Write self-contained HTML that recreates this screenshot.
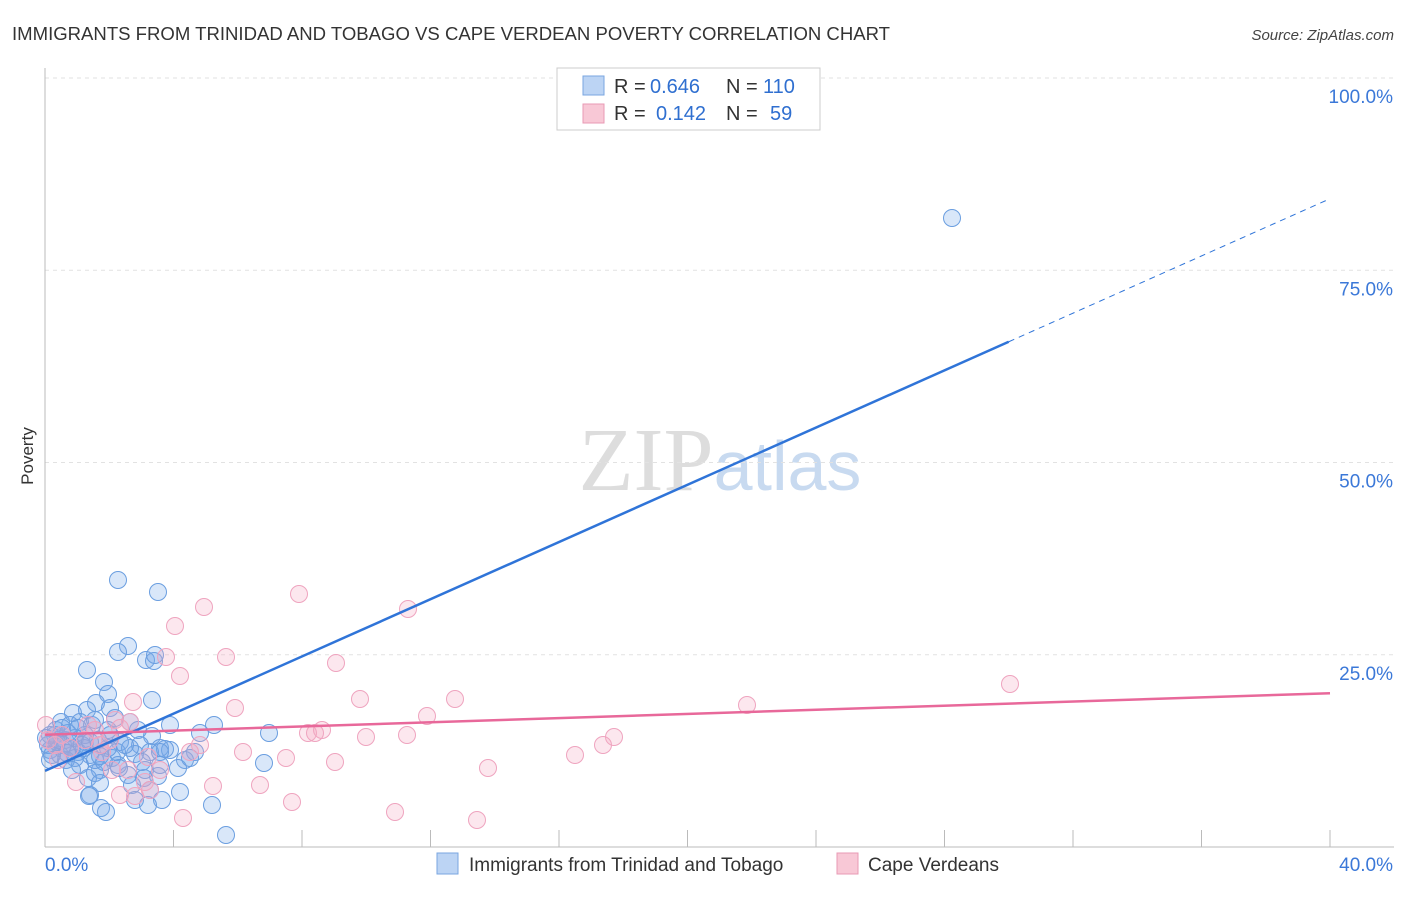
<!DOCTYPE html>
<html><head><meta charset="utf-8"><style>
body{margin:0;background:#fff;font-family:"Liberation Sans",sans-serif}
</style></head><body>
<svg id="chart" width="1406" height="892" font-family="Liberation Sans, sans-serif">
<text x="12" y="40" font-size="18" fill="#333" textLength="878" lengthAdjust="spacingAndGlyphs">IMMIGRANTS FROM TRINIDAD AND TOBAGO VS CAPE VERDEAN POVERTY CORRELATION CHART</text>
<text x="1394" y="40" font-size="15" fill="#444" font-style="italic" text-anchor="end">Source: ZipAtlas.com</text>
<text x="720" y="490" font-size="90" fill="#ddd" text-anchor="middle" font-family="Liberation Serif, serif">ZIP<tspan fill="#c8daf0" font-family="Liberation Sans, sans-serif" font-size="70">atlas</tspan></text>
<text transform="translate(33,456) rotate(-90)" font-size="17" fill="#333" text-anchor="middle">Poverty</text>
<g id="grid"></g><g id="pts"></g><g id="lines"></g>
<g>
<rect x="557" y="68" width="263" height="62" fill="#fff" stroke="#ccc"/>
<rect x="583" y="76" width="21" height="19" fill="#bcd4f4" stroke="#7aa6e0"/>
<rect x="583" y="104" width="21" height="19" fill="#f8c8d6" stroke="#e89ab4"/>
<text x="614" y="93" font-size="20" fill="#333">R =</text>
<text x="650" y="93" font-size="20" fill="#2f6fd0">0.646</text>
<text x="726" y="93" font-size="20" fill="#333">N =</text>
<text x="763" y="93" font-size="20" fill="#2f6fd0">110</text>
<text x="614" y="120" font-size="20" fill="#333">R =</text>
<text x="656" y="120" font-size="20" fill="#2f6fd0">0.142</text>
<text x="726" y="120" font-size="20" fill="#333">N =</text>
<text x="770" y="120" font-size="20" fill="#2f6fd0">59</text>
</g>
<g>
<rect x="437" y="853" width="21" height="21" fill="#bcd4f4" stroke="#7aa6e0"/>
<text x="469" y="871" font-size="19" fill="#333">Immigrants from Trinidad and Tobago</text>
<rect x="837" y="853" width="21" height="21" fill="#f8c8d6" stroke="#e89ab4"/>
<text x="868" y="871" font-size="19" fill="#333">Cape Verdeans</text>
</g>
</svg>
<script>
const xTicks=[0,4,8,12,16,20,24,28,32,36,40];
const yTicks=[25,50,75,100];
const blueLine=[9.9,0,30,65.7,40,84.3];
const pinkLine=[14.6,0,40,20.0];
const bluePx=[[118,580],[158,592],[128,646],[118,652],[146,660],[154,661],[155,655],[87,670],[104,682],[108,694],[152,700],[96,703],[110,708],[73,713],[87,710],[61,722],[70,725],[80,722],[92,725],[115,718],[130,722],[170,725],[214,725],[200,733],[269,733],[152,736],[108,730],[55,735],[65,740],[75,738],[85,742],[100,745],[120,742],[140,745],[160,748],[170,750],[195,752],[50,750],[60,755],[78,752],[90,755],[112,758],[135,754],[150,752],[165,749],[185,760],[178,768],[264,763],[80,765],[100,770],[128,775],[144,778],[158,776],[88,778],[95,773],[132,785],[150,790],[180,792],[90,795],[100,783],[72,748],[55,745],[66,760],[50,735],[48,745],[56,730],[68,733],[84,748],[98,740],[117,752],[130,748],[138,730],[108,748],[89,796],[135,800],[162,800],[148,805],[212,805],[101,808],[106,812],[226,835],[63,745],[58,740],[75,758],[85,735],[95,760],[104,762],[118,765],[125,745],[52,755],[70,748],[82,745],[62,728],[78,728],[95,720],[110,735],[142,762],[160,752],[57,742],[46,738],[50,760],[67,753],[90,742],[72,770],[119,768],[145,770],[160,765],[190,758],[100,756],[952,218]];
const pinkPx=[[204,607],[299,594],[408,609],[175,626],[166,657],[226,657],[180,676],[336,663],[235,708],[360,699],[455,699],[133,702],[427,716],[46,725],[115,720],[130,722],[120,728],[95,730],[308,733],[322,730],[315,733],[366,737],[407,735],[614,737],[603,745],[575,755],[747,705],[1010,684],[243,752],[286,758],[335,762],[488,768],[200,745],[190,752],[148,757],[160,770],[128,770],[76,782],[112,770],[145,782],[260,785],[213,786],[292,802],[120,795],[135,796],[150,790],[183,818],[395,812],[477,820],[62,735],[55,745],[70,748],[85,740],[102,752],[58,760],[48,740],[100,745],[88,725],[110,740]];
const blueX=bluePx.map(p=>(p[0]-45)/32.125), blueY=bluePx.map(p=>(847-p[1])/7.69);
const pinkX=pinkPx.map(p=>(p[0]-45)/32.125), pinkY=pinkPx.map(p=>(847-p[1])/7.69);
const X=v=>45+v*32.125, Y=v=>847-v*7.69;
const NS='http://www.w3.org/2000/svg';
function mk(tag,attrs,parent){const e=document.createElementNS(NS,tag);for(const k in attrs)e.setAttribute(k,attrs[k]);parent.appendChild(e);return e;}
const grid=document.getElementById('grid');
yTicks.forEach(t=>{const l=mk('line',{x1:45,x2:1394,y1:Y(t),y2:Y(t),stroke:'#e2e2e2','stroke-dasharray':'4,4'},grid);


const tx=mk('text',{x:1393,y:Y(t)+25,'font-size':19,fill:'#3b78d8','text-anchor':'end'},grid);tx.textContent=t.toFixed(1)+'%';

});
mk('line',{x1:45,x2:45,y1:68,y2:847,stroke:'#bbb'},grid);
mk('line',{x1:45,x2:1394,y1:847,y2:847,stroke:'#bbb'},grid);
xTicks.forEach(t=>{if(t>0){const l=mk('line',{x1:X(t),x2:X(t),y1:830,y2:847,stroke:'#bbb'},grid);

}});
[[0,'0.0%','start',45],[40,'40.0%','end',1393]].forEach(a=>{const tx=mk('text',{x:a[3],y:871,'font-size':19,fill:'#3b78d8','text-anchor':a[2]},grid);tx.textContent=a[1];

});
const pts=document.getElementById('pts');
blueX.forEach((x,i)=>{const c=mk('circle',{cx:X(x),cy:Y(blueY[i]),r:8.5,fill:'rgba(120,170,235,0.28)',stroke:'#6a9ee0','stroke-width':1},pts);

});
pinkX.forEach((x,i)=>{const c=mk('circle',{cx:X(x),cy:Y(pinkY[i]),r:8.5,fill:'rgba(245,170,195,0.28)',stroke:'#efa4bf','stroke-width':1},pts);

});
const lines=document.getElementById('lines');
let l=mk('line',{x1:X(blueLine[1]),y1:Y(blueLine[0]),x2:X(blueLine[2]),y2:Y(blueLine[3]),stroke:'#2f74d8','stroke-width':2.5},lines);


l=mk('line',{x1:X(blueLine[2]),y1:Y(blueLine[3]),x2:X(blueLine[4]),y2:Y(blueLine[5]),stroke:'#2f74d8','stroke-width':1,'stroke-dasharray':'6,5'},lines);


l=mk('line',{x1:X(pinkLine[1]),y1:Y(pinkLine[0]),x2:X(pinkLine[2]),y2:Y(pinkLine[3]),stroke:'#e8689a','stroke-width':2.5},lines);


</script>
</body></html>
